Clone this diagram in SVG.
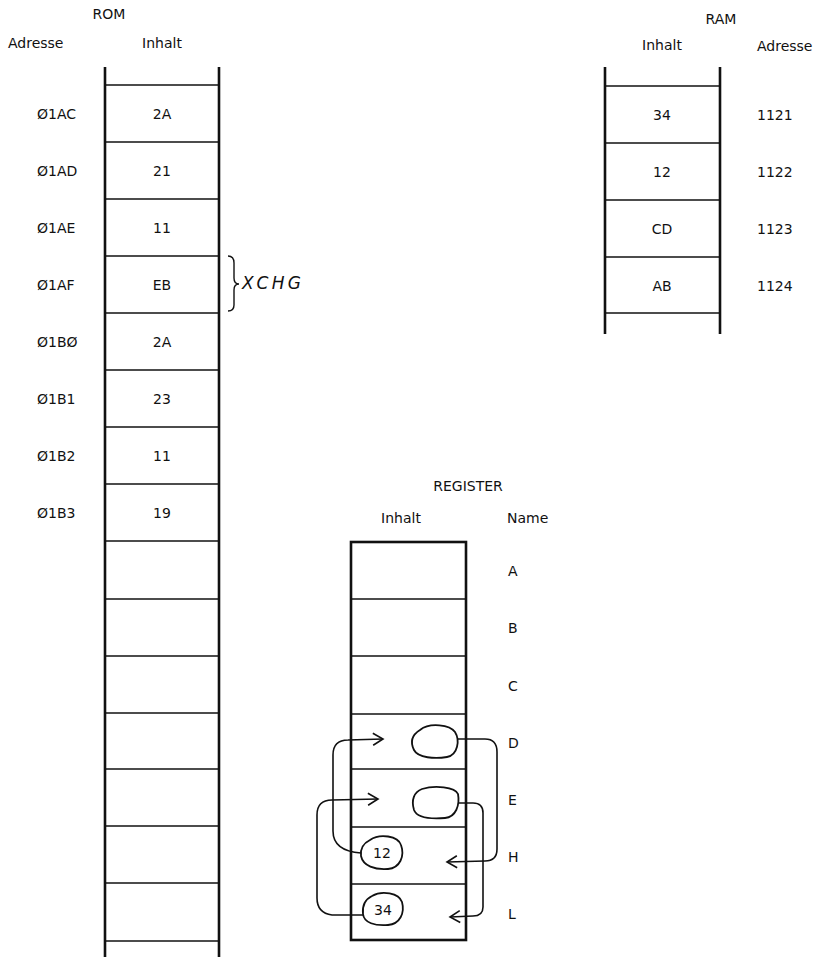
<svg xmlns="http://www.w3.org/2000/svg" width="825" height="957" viewBox="0 0 825 957">
<style>
text{font-family:"DejaVu Sans","Liberation Sans",sans-serif;font-size:14px;fill:#111}
.c{text-anchor:middle}
.x{font-size:17px;font-style:italic}
.v{stroke:#111;stroke-width:2.6;fill:none}
.h{stroke:#111;stroke-width:1.5;fill:none}
.blob{stroke:#111;stroke-width:1.8;fill:#fff}
.con{stroke:#111;stroke-width:1.6;fill:none;marker-end:url(#arr)}
</style>
<defs>
<marker id="arr" markerUnits="userSpaceOnUse" markerWidth="14" markerHeight="16" refX="11" refY="7" orient="auto">
<path d="M1,1 L11,7 L1,13" fill="none" stroke="#111" stroke-width="1.6"/>
</marker>
</defs>
<rect width="825" height="957" fill="#fff"/>

<g id="rom">
<text x="109" y="19" class="c">ROM</text>
<text x="8" y="48">Adresse</text>
<text x="162" y="48" class="c">Inhalt</text>
<line x1="105" y1="67" x2="105" y2="957" class="v"/>
<line x1="219" y1="67" x2="219" y2="957" class="v"/>
<g class="h">
<line x1="105" y1="85" x2="219" y2="85"/>
<line x1="105" y1="142" x2="219" y2="142"/>
<line x1="105" y1="199" x2="219" y2="199"/>
<line x1="105" y1="256" x2="219" y2="256"/>
<line x1="105" y1="313" x2="219" y2="313"/>
<line x1="105" y1="370" x2="219" y2="370"/>
<line x1="105" y1="427" x2="219" y2="427"/>
<line x1="105" y1="484" x2="219" y2="484"/>
<line x1="105" y1="541" x2="219" y2="541"/>
<line x1="105" y1="599" x2="219" y2="599"/>
<line x1="105" y1="656" x2="219" y2="656"/>
<line x1="105" y1="713" x2="219" y2="713"/>
<line x1="105" y1="769" x2="219" y2="769"/>
<line x1="105" y1="826" x2="219" y2="826"/>
<line x1="105" y1="883" x2="219" y2="883"/>
<line x1="105" y1="941" x2="219" y2="941"/>
</g>
<text x="37" y="119">Ø1AC</text><text x="162" y="119" class="c">2A</text>
<text x="37" y="176">Ø1AD</text><text x="162" y="176" class="c">21</text>
<text x="37" y="233">Ø1AE</text><text x="162" y="233" class="c">11</text>
<text x="37" y="290">Ø1AF</text><text x="162" y="290" class="c">EB</text>
<text x="37" y="347">Ø1BØ</text><text x="162" y="347" class="c">2A</text>
<text x="37" y="404">Ø1B1</text><text x="162" y="404" class="c">23</text>
<text x="37" y="461">Ø1B2</text><text x="162" y="461" class="c">11</text>
<text x="37" y="518">Ø1B3</text><text x="162" y="518" class="c">19</text>
</g>

<g id="xchg">
<path d="M228,256 Q234,256 234,263 L234,278 Q234,284 239,284 Q234,284 234,290 L234,305 Q234,311 228,311" fill="none" stroke="#111" stroke-width="1.4"/>
<text x="242" y="289" class="x" textLength="59" lengthAdjust="spacing">XCHG</text>
</g>

<g id="ram">
<text x="721" y="24" class="c">RAM</text>
<text x="662" y="50" class="c">Inhalt</text>
<text x="757" y="51">Adresse</text>
<line x1="605" y1="67" x2="605" y2="334" class="v"/>
<line x1="720" y1="67" x2="720" y2="334" class="v"/>
<g class="h">
<line x1="605" y1="86" x2="720" y2="86"/>
<line x1="605" y1="143" x2="720" y2="143"/>
<line x1="605" y1="200" x2="720" y2="200"/>
<line x1="605" y1="257" x2="720" y2="257"/>
<line x1="605" y1="313" x2="720" y2="313"/>
</g>
<text x="662" y="120" class="c">34</text><text x="757" y="120">1121</text>
<text x="662" y="177" class="c">12</text><text x="757" y="177">1122</text>
<text x="662" y="234" class="c">CD</text><text x="757" y="234">1123</text>
<text x="662" y="291" class="c">AB</text><text x="757" y="291">1124</text>
</g>

<g id="register">
<text x="468" y="491" class="c">REGISTER</text>
<text x="401" y="523" class="c">Inhalt</text>
<text x="507" y="523">Name</text>
<rect x="351" y="542" width="115" height="398" class="v"/>
<g class="h">
<line x1="351" y1="599" x2="466" y2="599"/>
<line x1="351" y1="656" x2="466" y2="656"/>
<line x1="351" y1="714" x2="466" y2="714"/>
<line x1="351" y1="769" x2="466" y2="769"/>
<line x1="351" y1="827" x2="466" y2="827"/>
<line x1="351" y1="884" x2="466" y2="884"/>
</g>
<text x="508" y="576">A</text>
<text x="508" y="633">B</text>
<text x="508" y="691">C</text>
<text x="508" y="748">D</text>
<text x="508" y="805">E</text>
<text x="508" y="862">H</text>
<text x="508" y="919">L</text>
</g>

<g id="blob-d"><path class="blob" d="M420,730 C430,722 450,725 455,732 C460,740 458,755 447,757 C435,759 418,758 414,750 C410,742 412,735 420,730 Z"/></g>
<g id="blob-e"><path class="blob" d="M422,789 C435,785 455,787 458,794 C460,805 456,817 445,818 C432,819 417,818 414,810 C411,800 414,792 422,789 Z"/></g>
<g id="blob-12"><path class="blob" d="M370,840 C380,833 398,836 401,845 C405,856 400,868 388,869 C375,870 363,866 361,856 C360,848 364,843 370,840 Z"/><text x="382" y="858" class="c">12</text></g>
<g id="blob-34"><path class="blob" d="M372,896 C382,890 399,893 402,902 C405,913 400,924 388,925 C375,926 364,923 363,914 C362,905 366,899 372,896 Z"/><text x="383" y="915" class="c">34</text></g>

<g id="connectors">
<path class="con" d="M457,739 L485,739 Q497,739 497,752 L497,849 Q497,861 485,861 L447,862"/>
<path class="con" d="M459,803 L473,803 Q483,803 483,813 L483,907 Q483,916 473,916 L450,917"/>
<path class="con" d="M361,853 Q333,851 333,831 L333,755 Q333,740 348,740 L383,739"/>
<path class="con" d="M363,915 L332,915 Q317,913 317,898 L317,815 Q317,800 332,800 L378,799"/>
</g>
</svg>
